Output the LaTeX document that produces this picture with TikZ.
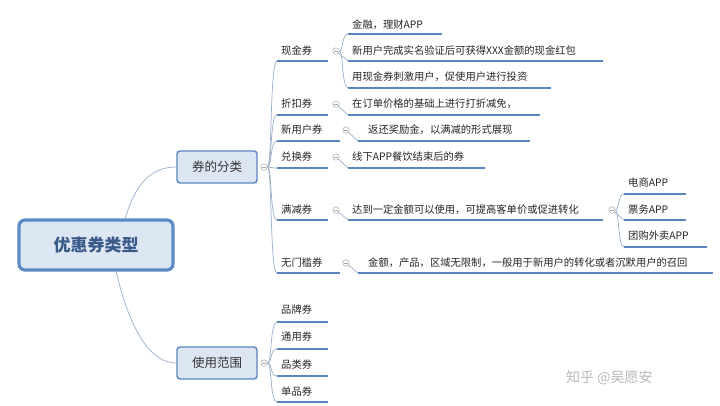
\documentclass[tikz,border=0pt]{standalone}
\usepackage{fontspec}
\setmainfont{Noto Sans CJK SC}
\definecolor{lineblue}{HTML}{5A85BE}
\definecolor{connc}{HTML}{9AAFCB}
\definecolor{fillb}{HTML}{DDE7F3}
\definecolor{rootb}{HTML}{5B8AC6}
\definecolor{roott}{HTML}{3A5A8A}
\begin{document}
\begin{tikzpicture}[x=1pt,y=-1pt,
  lbl/.style={anchor=west,inner sep=0pt,font=\fontsize{10.3}{12}\selectfont,text=black!85},
  uline/.style={draw=lineblue,line width=1.8pt},
  conn/.style={draw=connc,line width=0.7pt},
  tog/.style={circle,draw=gray!70,line width=0.5pt,minimum size=6.5pt,inner sep=0pt,fill=white,
    path picture={\draw[gray!70,line width=0.5pt] ([xshift=-1.8pt]path picture bounding box.center)--([xshift=1.8pt]path picture bounding box.center);}},
  topic/.style={draw=lineblue,fill=fillb,rounded corners=3pt,line width=1.4pt,inner sep=0pt,font=\fontsize{12.5}{14}\selectfont,text=black!80}]
\useasboundingbox (0,0) rectangle (720,406);
\fill[white] (0,0) rectangle (720,406);
\newcommand\leafx[6]{\node[lbl] (#1) at (#2+4,#3) {#6};\draw[uline] (#2,#4) -- (#5,#4);\coordinate (#1s) at (#2,#4);}
\node[topic,draw=rootb,line width=3.2pt,rounded corners=6pt,minimum width=154pt,minimum height=50pt,font=\bfseries\fontsize{17}{19}\selectfont,text=roott] (root) at (96,245) {优惠券类型};
\node[topic,minimum width=80pt,minimum height=32pt] (cat) at (217,167) {券的分类};
\node[topic,minimum width=80pt,minimum height=32pt] (use) at (217,363) {使用范围};
\draw[conn] (125,219) .. controls (135,185) and (150,167) .. (cat.west);
\draw[conn] (116,271) .. controls (130,330) and (150,363) .. (use.west);
\node[tog] (tc) at (264,167) {};
\node[tog] (tu) at (264,363) {};
\leafx{xj}{277}{51}{61}{328}{现金券}
\leafx{zk}{277}{104}{115}{328}{折扣券}
\leafx{xyh}{277}{130}{141}{340}{新用户券}
\leafx{dh}{277}{157}{168}{328}{兑换券}
\leafx{mj}{277}{210}{220}{328}{满减券}
\leafx{wmk}{277}{263}{273}{340}{无门槛券}
\foreach \n/\y in {xj/61,zk/115,xyh/141,dh/168,mj/220,wmk/273} {\draw[conn] (tc) .. controls (272,167) and (270,\y) .. (\n s);}
\node[tog] (txj) at (336,51) {};
\node[tog] (tzk) at (336,104) {};
\node[tog] (txyh) at (346,130) {};
\node[tog] (tdh) at (336,157) {};
\node[tog] (tmj) at (336,210) {};
\node[tog] (twmk) at (346,263) {};
\leafx{a1}{348}{25}{34}{442}{金融，理财APP}
\leafx{a2}{348}{51}{61}{603}{新用户完成实名验证后可获得XXX金额的现金红包}
\leafx{a3}{348}{77}{88}{551}{用现金券刺激用户，促使用户进行投资}
\leafx{b1}{348}{104}{115}{540}{在订单价格的基础上进行打折减免，}
\leafx{c1}{358}{130}{141}{530}{\hspace{6pt}返还奖励金，以满减的形式展现}
\leafx{d1}{348}{157}{168}{485}{线下APP餐饮结束后的券}
\leafx{e1}{348}{210}{220}{603}{达到一定金额可以使用，可提高客单价或促进转化}
\leafx{f1}{358}{263}{273}{713}{\hspace{6pt}金额，产品，区域无限制，一般用于新用户的转化或者沉默用户的召回}
\node[tog] (te1) at (612,210) {};
\leafx{g1}{624}{183}{194}{686}{电商APP}
\leafx{g2}{624}{210}{220}{686}{票务APP}
\leafx{g3}{624}{236}{247}{707}{团购外卖APP}
\draw[conn] (txj) .. controls (343,51) and (342,34) .. (a1s);
\draw[conn] (txj) -- (a2s);
\draw[conn] (txj) .. controls (343,51) and (342,88) .. (a3s);
\draw[conn] (tzk) -- (b1s);
\draw[conn] (txyh) -- (c1s);
\draw[conn] (tdh) -- (d1s);
\draw[conn] (tmj) -- (e1s);
\draw[conn] (twmk) -- (f1s);
\draw[conn] (te1) .. controls (619,210) and (618,194) .. (g1s);
\draw[conn] (te1) -- (g2s);
\draw[conn] (te1) .. controls (619,210) and (618,247) .. (g3s);
\leafx{u1}{277}{310}{322}{328}{品牌券}
\leafx{u2}{277}{337}{349}{328}{通用券}
\leafx{u3}{277}{365}{376}{328}{品类券}
\leafx{u4}{277}{392}{402}{328}{单品券}
\foreach \n/\y in {u1/322,u2/349,u3/376,u4/402} {\draw[conn] (tu) .. controls (272,363) and (270,\y) .. (\n s);}
\node[anchor=west,inner sep=0pt,font=\fontsize{14}{16}\selectfont,text=gray!55] (wm) at (566,378) {知乎 @吴愿安};
\end{tikzpicture}
\end{document}
